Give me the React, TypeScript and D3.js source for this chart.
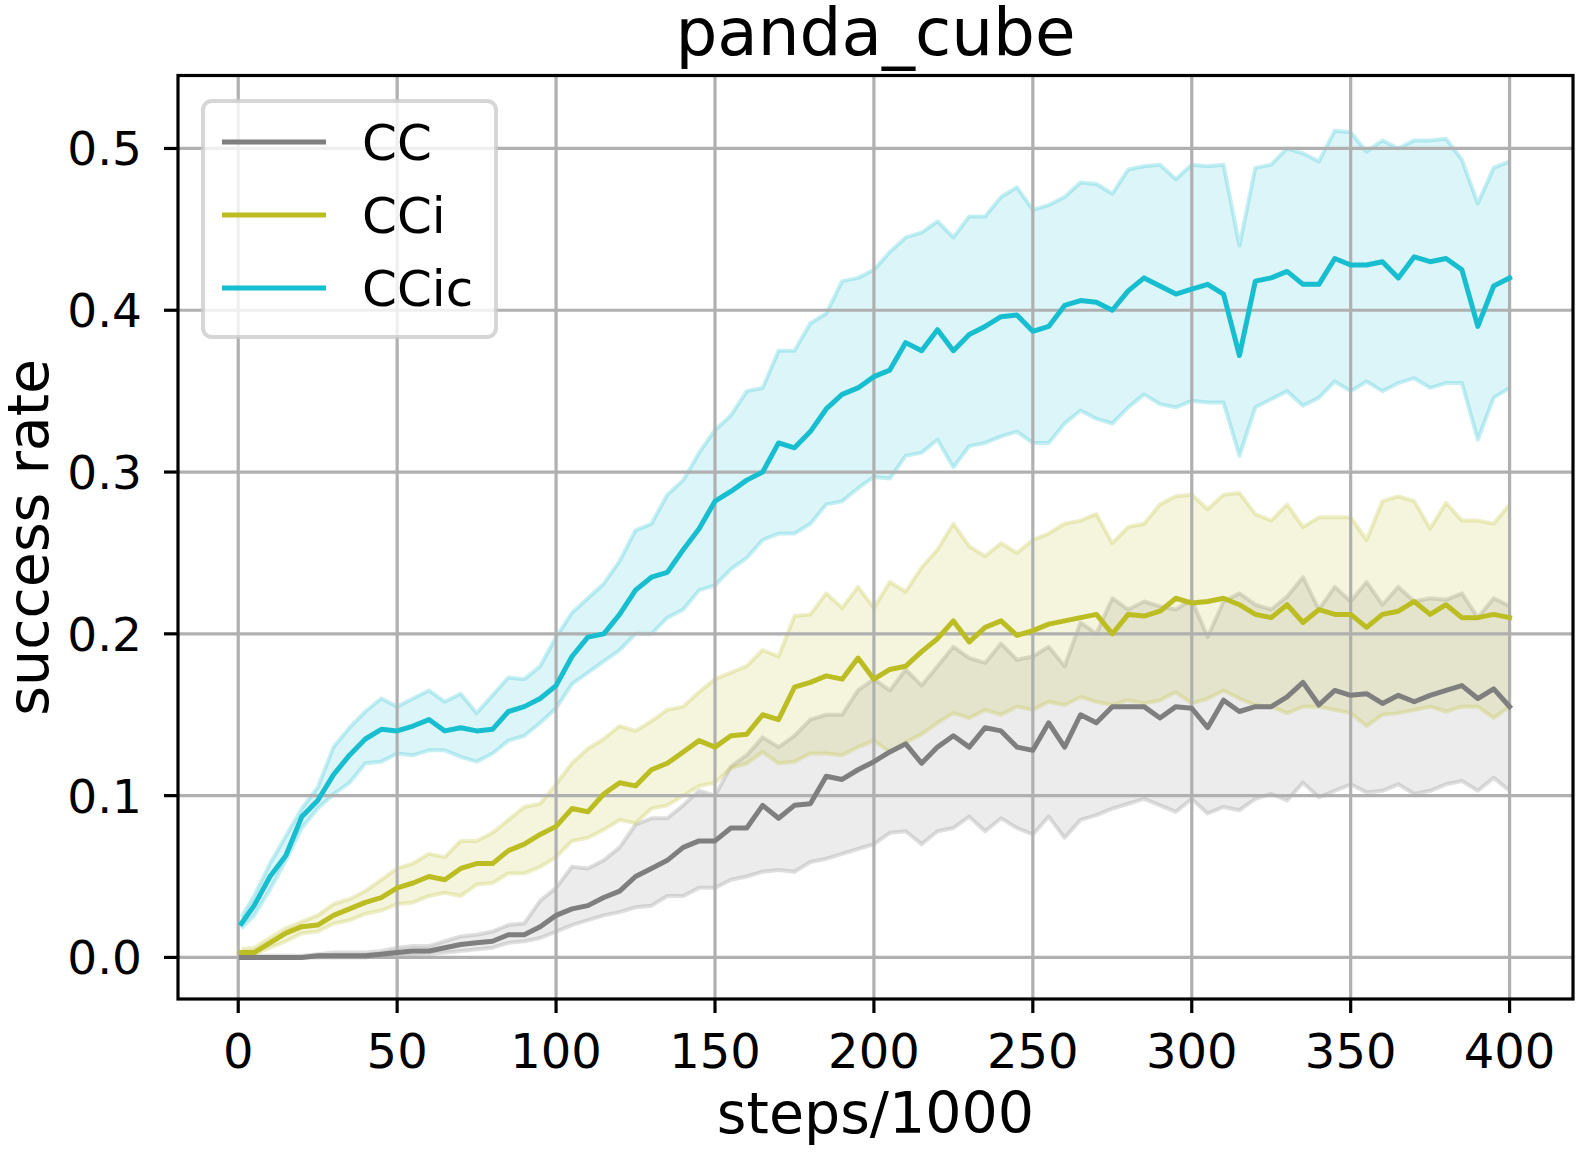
import * as d3 from 'd3'

const W = 1576, H = 1152
const M = { left: 178, right: 1573, top: 75.5, bottom: 999 }

const steps = [
  1, 5, 10, 15, 20, 25, 30, 35, 40, 45,
  50, 55, 60, 65, 70, 75, 80, 85, 90, 95,
  100, 105, 110, 115, 120, 125, 130, 135, 140, 145,
  150, 155, 160, 165, 170, 175, 180, 185, 190, 195,
  200, 205, 210, 215, 220, 225, 230, 235, 240, 245,
  250, 255, 260, 265, 270, 275, 280, 285, 290, 295,
  300, 305, 310, 315, 320, 325, 330, 335, 340, 345,
  350, 355, 360, 365, 370, 375, 380, 385, 390, 395,
  400,
]

const ccMean = [
  0.000, 0.000, 0.000, 0.000, 0.000, 0.001, 0.001, 0.001, 0.001, 0.002,
  0.003, 0.004, 0.004, 0.006, 0.008, 0.009, 0.010, 0.014, 0.014, 0.019,
  0.026, 0.030, 0.032, 0.037, 0.041, 0.050, 0.055, 0.060, 0.068, 0.072,
  0.072, 0.080, 0.080, 0.094, 0.086, 0.094, 0.095, 0.112, 0.110, 0.116,
  0.121, 0.127, 0.132, 0.120, 0.130, 0.137, 0.130, 0.142, 0.140, 0.130,
  0.128, 0.145, 0.130, 0.150, 0.145, 0.155, 0.155, 0.155, 0.148, 0.155,
  0.154, 0.142, 0.159, 0.152, 0.155, 0.155, 0.161, 0.170, 0.156, 0.165,
  0.162, 0.163, 0.157, 0.162, 0.158, 0.162, 0.165, 0.168, 0.160, 0.166,
  0.155,
]
const ccHigh = [
  0.001, 0.001, 0.001, 0.001, 0.001, 0.002, 0.003, 0.003, 0.003, 0.004,
  0.006, 0.007, 0.007, 0.010, 0.013, 0.014, 0.016, 0.020, 0.021, 0.035,
  0.043, 0.056, 0.055, 0.060, 0.068, 0.082, 0.086, 0.086, 0.094, 0.103,
  0.100, 0.118, 0.125, 0.136, 0.130, 0.137, 0.147, 0.150, 0.150, 0.165,
  0.172, 0.165, 0.178, 0.168, 0.180, 0.192, 0.185, 0.182, 0.194, 0.184,
  0.186, 0.192, 0.180, 0.207, 0.200, 0.222, 0.215, 0.220, 0.217, 0.215,
  0.221, 0.198, 0.220, 0.225, 0.218, 0.215, 0.223, 0.235, 0.215, 0.229,
  0.220, 0.232, 0.218, 0.229, 0.220, 0.222, 0.221, 0.225, 0.210, 0.222,
  0.217,
]
const ccLow = [
  0.000, 0.000, 0.000, 0.000, 0.000, 0.000, 0.000, 0.000, 0.000, 0.001,
  0.001, 0.001, 0.002, 0.003, 0.004, 0.005, 0.006, 0.009, 0.010, 0.012,
  0.016, 0.020, 0.023, 0.026, 0.028, 0.031, 0.032, 0.038, 0.038, 0.043,
  0.043, 0.048, 0.050, 0.053, 0.054, 0.053, 0.059, 0.061, 0.064, 0.067,
  0.070, 0.077, 0.078, 0.070, 0.078, 0.080, 0.087, 0.078, 0.086, 0.080,
  0.076, 0.087, 0.074, 0.085, 0.088, 0.092, 0.095, 0.098, 0.094, 0.090,
  0.098, 0.089, 0.093, 0.091, 0.098, 0.101, 0.097, 0.108, 0.099, 0.103,
  0.107, 0.102, 0.103, 0.107, 0.101, 0.103, 0.107, 0.109, 0.103, 0.111,
  0.103,
]

const cciMean = [
  0.003, 0.003, 0.009, 0.015, 0.019, 0.020, 0.026, 0.030, 0.034, 0.037,
  0.043, 0.046, 0.050, 0.048, 0.055, 0.058, 0.058, 0.066, 0.070, 0.076,
  0.081, 0.092, 0.090, 0.101, 0.108, 0.106, 0.116, 0.120, 0.127, 0.134,
  0.130, 0.137, 0.138, 0.150, 0.147, 0.167, 0.170, 0.174, 0.172, 0.185,
  0.172, 0.178, 0.180, 0.189, 0.197, 0.208, 0.195, 0.204, 0.208, 0.199,
  0.202, 0.206, 0.208, 0.210, 0.212, 0.200, 0.212, 0.211, 0.214, 0.222,
  0.219, 0.220, 0.222, 0.218, 0.212, 0.210, 0.218, 0.207, 0.215, 0.212,
  0.212, 0.204, 0.212, 0.214, 0.220, 0.212, 0.218, 0.210, 0.210, 0.212,
  0.210,
]
const cciHigh = [
  0.005, 0.006, 0.012, 0.018, 0.022, 0.026, 0.033, 0.036, 0.041, 0.048,
  0.055, 0.058, 0.064, 0.062, 0.072, 0.072, 0.077, 0.085, 0.093, 0.095,
  0.107, 0.120, 0.129, 0.135, 0.143, 0.140, 0.146, 0.153, 0.155, 0.164,
  0.172, 0.176, 0.180, 0.190, 0.186, 0.211, 0.212, 0.225, 0.216, 0.229,
  0.216, 0.232, 0.226, 0.241, 0.252, 0.268, 0.254, 0.248, 0.256, 0.250,
  0.258, 0.262, 0.268, 0.270, 0.274, 0.256, 0.266, 0.268, 0.280, 0.285,
  0.286, 0.277, 0.286, 0.287, 0.274, 0.270, 0.280, 0.266, 0.272, 0.272,
  0.272, 0.258, 0.282, 0.285, 0.282, 0.265, 0.281, 0.270, 0.270, 0.268,
  0.280,
]
const cciLow = [
  0.002, 0.002, 0.006, 0.010, 0.015, 0.016, 0.021, 0.023, 0.027, 0.029,
  0.033, 0.034, 0.038, 0.040, 0.038, 0.045, 0.046, 0.052, 0.052, 0.056,
  0.062, 0.072, 0.074, 0.079, 0.085, 0.083, 0.092, 0.094, 0.100, 0.106,
  0.108, 0.117, 0.120, 0.127, 0.120, 0.121, 0.126, 0.126, 0.125, 0.130,
  0.134, 0.127, 0.133, 0.138, 0.145, 0.151, 0.148, 0.153, 0.150, 0.155,
  0.153, 0.158, 0.156, 0.161, 0.158, 0.156, 0.159, 0.157, 0.159, 0.164,
  0.157, 0.160, 0.165, 0.160, 0.156, 0.155, 0.151, 0.155, 0.155, 0.153,
  0.151, 0.143, 0.150, 0.151, 0.153, 0.155, 0.152, 0.155, 0.155, 0.148,
  0.155,
]

const ccicMean = [
  0.021, 0.032, 0.050, 0.063, 0.087, 0.097, 0.113, 0.125, 0.135, 0.141,
  0.140, 0.143, 0.147, 0.140, 0.142, 0.140, 0.141, 0.152, 0.155, 0.160,
  0.168, 0.186, 0.198, 0.200, 0.212, 0.227, 0.235, 0.238, 0.252, 0.265,
  0.282, 0.288, 0.295, 0.300, 0.318, 0.315, 0.325, 0.339, 0.348, 0.352,
  0.359, 0.363, 0.380, 0.375, 0.388, 0.375, 0.385, 0.390, 0.396, 0.397,
  0.387, 0.390, 0.403, 0.406, 0.405, 0.400, 0.412, 0.420, 0.415, 0.410,
  0.413, 0.416, 0.410, 0.372, 0.418, 0.420, 0.424, 0.416, 0.416, 0.432,
  0.428, 0.428, 0.430, 0.420, 0.433, 0.430, 0.432, 0.425, 0.390, 0.415,
  0.420,
]
const ccicHigh = [
  0.025, 0.038, 0.058, 0.075, 0.092, 0.105, 0.130, 0.142, 0.152, 0.160,
  0.155, 0.160, 0.165, 0.158, 0.163, 0.151, 0.162, 0.173, 0.172, 0.180,
  0.198, 0.213, 0.222, 0.231, 0.245, 0.264, 0.268, 0.286, 0.295, 0.312,
  0.326, 0.335, 0.350, 0.352, 0.375, 0.375, 0.392, 0.398, 0.418, 0.420,
  0.425, 0.436, 0.445, 0.448, 0.455, 0.445, 0.458, 0.458, 0.470, 0.476,
  0.462, 0.465, 0.470, 0.479, 0.478, 0.472, 0.487, 0.489, 0.490, 0.481,
  0.490, 0.489, 0.490, 0.440, 0.488, 0.490, 0.500, 0.497, 0.492, 0.511,
  0.510, 0.498, 0.505, 0.500, 0.505, 0.505, 0.506, 0.493, 0.466, 0.488,
  0.492,
]
const ccicLow = [
  0.018, 0.026, 0.042, 0.060, 0.080, 0.092, 0.101, 0.108, 0.120, 0.121,
  0.126, 0.125, 0.128, 0.128, 0.124, 0.121, 0.126, 0.134, 0.137, 0.145,
  0.154, 0.169, 0.176, 0.183, 0.190, 0.200, 0.200, 0.210, 0.215, 0.227,
  0.230, 0.240, 0.247, 0.258, 0.262, 0.262, 0.268, 0.280, 0.282, 0.290,
  0.297, 0.296, 0.310, 0.312, 0.320, 0.303, 0.316, 0.318, 0.322, 0.325,
  0.318, 0.318, 0.330, 0.338, 0.333, 0.330, 0.340, 0.348, 0.342, 0.340,
  0.344, 0.343, 0.343, 0.310, 0.340, 0.345, 0.350, 0.341, 0.346, 0.356,
  0.350, 0.356, 0.350, 0.355, 0.358, 0.352, 0.355, 0.355, 0.320, 0.346,
  0.352,
]

const names = ['CC', 'CCi', 'CCic']
const colors = ['#7f7f7f', '#bcbd22', '#17becf']
const means = [ccMean, cciMean, ccicMean]
const highs = [ccHigh, cciHigh, ccicHigh]
const lows = [ccLow, cciLow, ccicLow]

const xTicks = [0, 50, 100, 150, 200, 250, 300, 350, 400]
const yTicks = [0.0, 0.1, 0.2, 0.3, 0.4, 0.5]

const FONT = '"DejaVu Sans", Verdana, sans-serif'

export default function App() {
  const x = d3.scaleLinear().domain([-18.95, 419.95]).range([M.left, M.right])
  const y = d3.scaleLinear().domain([-0.0257, 0.5451]).range([M.bottom, M.top])

  const line = d3.line<number>()
    .x((_, i) => x(steps[i]))
    .y(d => y(d))

  const band = (lo: number[], hi: number[]) =>
    d3.area<number>()
      .x((_, i) => x(steps[i]))
      .y0((_, i) => y(lo[i]))
      .y1(d => y(d))(hi) || ''

  const cx = (M.left + M.right) / 2
  const cy = (M.top + M.bottom) / 2

  return (
    <svg width={W} height={H} style={{ position: 'absolute', left: 0, top: 0, background: '#fff' }}
      fontFamily={FONT}>
      {/* bands (collections sit below grid) */}
      {names.map((n, k) => (
        <g key={'band' + n}>
          <path d={band(lows[k], highs[k])} fill={colors[k]} fillOpacity={0.15} />
          <path d={line(highs[k]) || ''} fill="none" stroke={colors[k]} strokeOpacity={0.25}
            strokeWidth={4} strokeLinejoin="round" />
          <path d={line(lows[k]) || ''} fill="none" stroke={colors[k]} strokeOpacity={0.25}
            strokeWidth={4} strokeLinejoin="round" />
        </g>
      ))}

      {/* grid */}
      {xTicks.map(t => (
        <line key={'gx' + t} x1={x(t)} x2={x(t)} y1={M.top} y2={M.bottom} stroke="#b0b0b0" strokeWidth={3.2} />
      ))}
      {yTicks.map(t => (
        <line key={'gy' + t} x1={M.left} x2={M.right} y1={y(t)} y2={y(t)} stroke="#b0b0b0" strokeWidth={3.2} />
      ))}

      {/* mean lines */}
      {names.map((n, k) => (
        <path key={'mean' + n} d={line(means[k]) || ''} fill="none" stroke={colors[k]}
          strokeWidth={5} strokeLinejoin="round" strokeLinecap="square" />
      ))}

      {/* spines */}
      <rect x={M.left} y={M.top} width={M.right - M.left} height={M.bottom - M.top}
        fill="none" stroke="#000" strokeWidth={3.2} />

      {/* x axis */}
      {xTicks.map(t => (
        <g key={'xt' + t}>
          <line x1={x(t)} x2={x(t)} y1={M.bottom} y2={M.bottom + 14} stroke="#000" strokeWidth={3.2} />
          <text x={x(t)} y={1068} textAnchor="middle" fontSize={48}>{t}</text>
        </g>
      ))}
      {/* y axis */}
      {yTicks.map(t => (
        <g key={'yt' + t}>
          <line x1={M.left - 14} x2={M.left} y1={y(t)} y2={y(t)} stroke="#000" strokeWidth={3.2} />
          <text x={142} y={y(t)} dy="0.36em" textAnchor="end" fontSize={47}>{d3.format('.1f')(t)}</text>
        </g>
      ))}

      <text x={cx} y={55} textAnchor="middle" fontSize={66}>panda_cube</text>
      <text x={cx} y={1133} textAnchor="middle" fontSize={57}>steps/1000</text>
      <text transform={`translate(48,${cy}) rotate(-90)`} textAnchor="middle" fontSize={57}>success rate</text>

      {/* legend */}
      <g>
        <rect x={203} y={101} width={293} height={236} rx={9} fill="#fff" fillOpacity={0.8}
          stroke="#cccccc" strokeOpacity={0.8} strokeWidth={4} />
        {names.map((n, k) => (
          <g key={'lg' + n} transform={`translate(0,${142 + k * 73})`}>
            <line x1={222} x2={326} y1={0} y2={0} stroke={colors[k]} strokeWidth={5} />
            <text x={362} y={0} dy="0.36em" fontSize={50}>{n}</text>
          </g>
        ))}
      </g>
    </svg>
  )
}
